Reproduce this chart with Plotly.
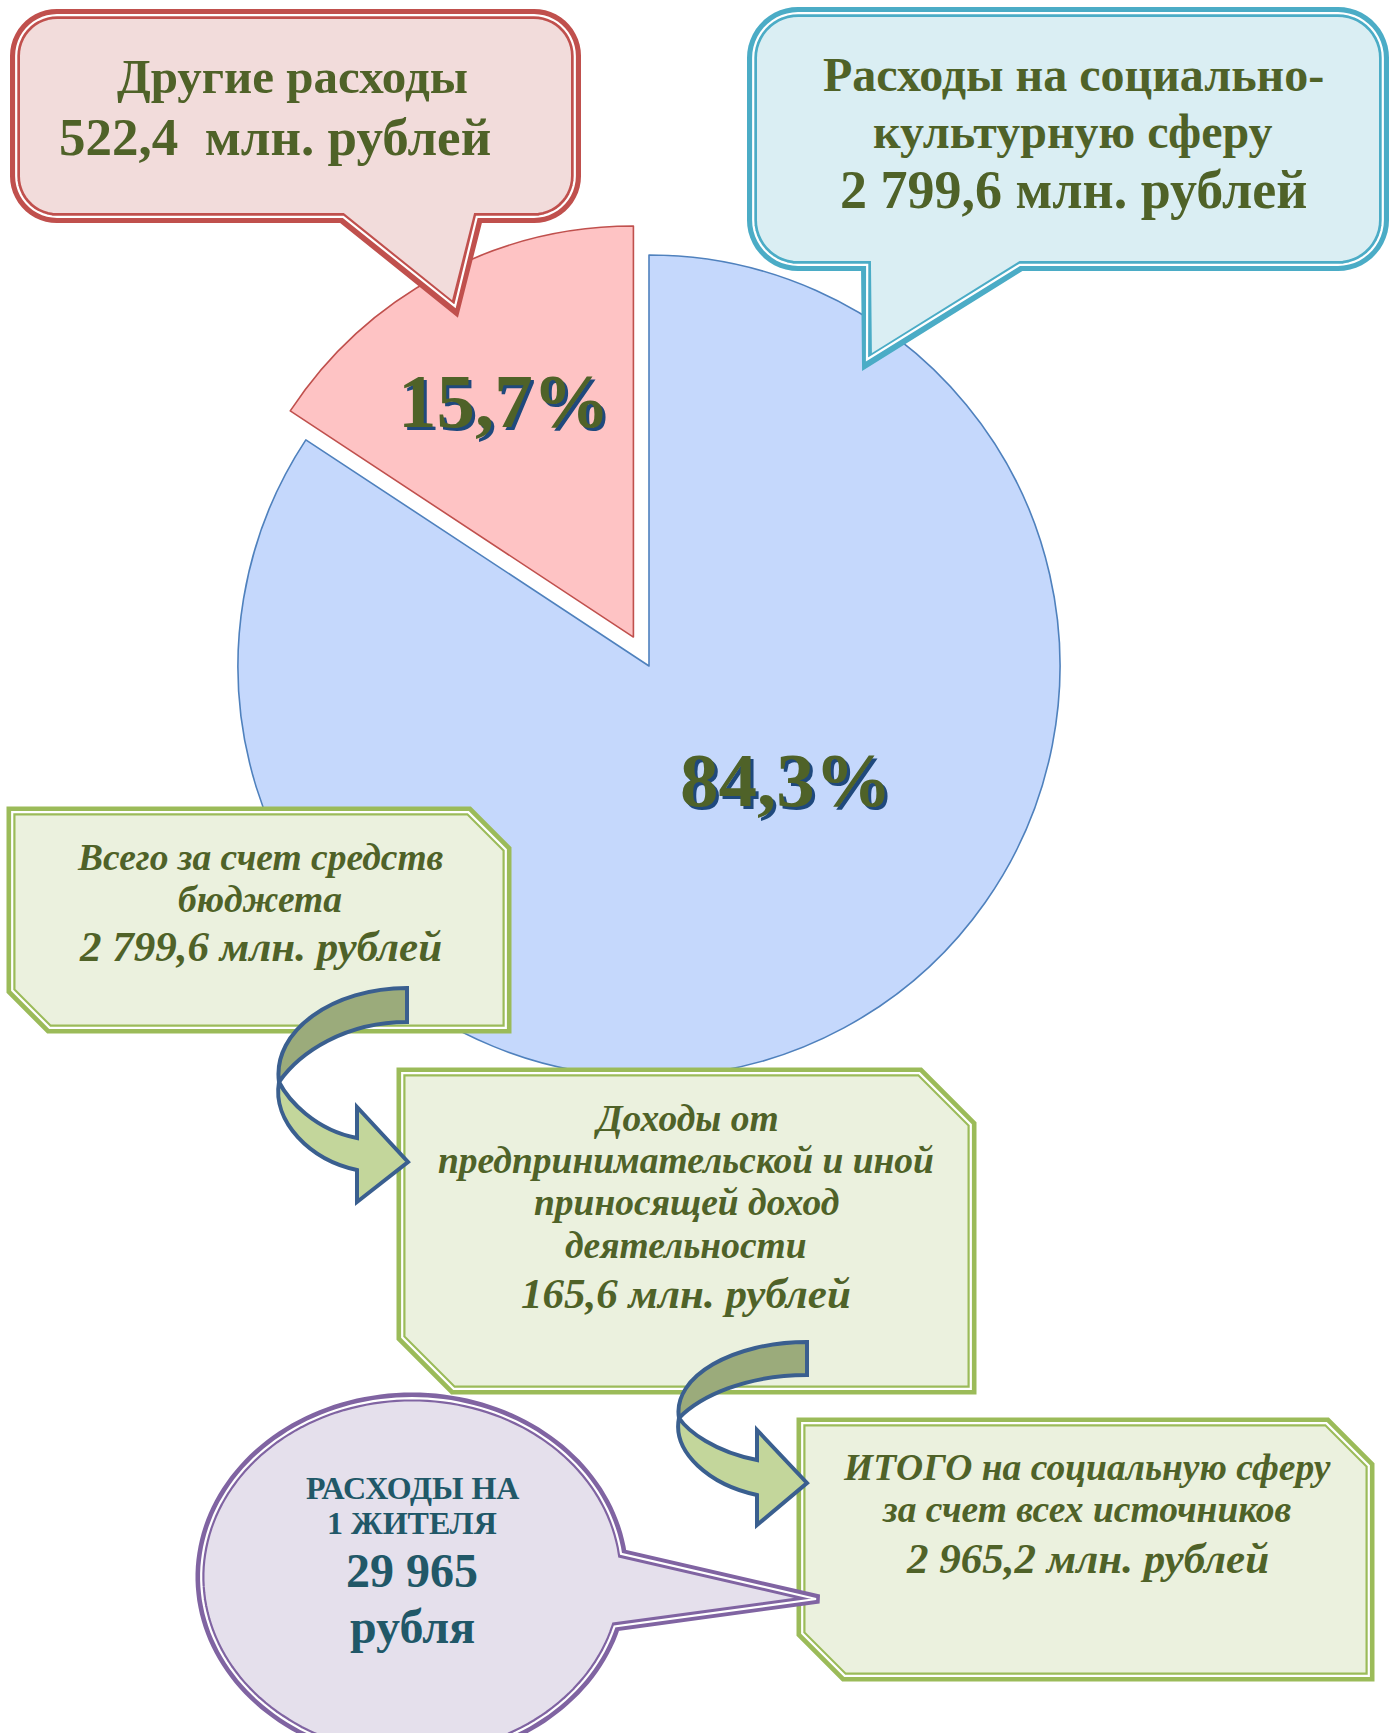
import numpy as np
import plotly.graph_objects as go

W, H = 1389, 1733

# ---------------- data ----------------
categories = ["Расходы на социально-культурную сферу", "Другие расходы"]
values = [2799.6, 522.4]            # млн. рублей
budget_total = 2799.6              # всего за счет средств бюджета
business_income = 165.6            # доходы от предпринимательской деятельности
per_resident = 29965               # расходы на 1 жителя, рублей
slice_colors = ["#c5d8fc", "#fec3c4"]
slice_lines = ["#4f81bd", "#c0504d"]
pull = [0.0, 0.08]

grand_total = budget_total + business_income


def fmt_ru(x, dec=1):
    return f"{x:,.{dec}f}".replace(",", " ").replace(".", ",")


percents = [100 * v / sum(values) for v in values]
pct_labels = [fmt_ru(p) + "%" for p in percents]

OLIVE = "#4f6228"
TEAL = "#215868"
FONT = "Liberation Serif"

fig = go.Figure()

# ---------------- pie ----------------
r_px = 411
cx, cy = 649, 666
half = r_px * (1 + max(pull))
fig.add_trace(go.Pie(
    labels=categories, values=values, sort=False, direction="clockwise",
    rotation=0, pull=pull, textinfo="none", hoverinfo="skip", showlegend=False,
    marker=dict(colors=slice_colors, line=dict(color=slice_lines, width=1.6)),
    domain=dict(x=[(cx - half) / W, (cx + half) / W],
                y=[1 - (cy + half) / H, 1 - (cy - half) / H]),
))

shapes = []


def pstr(pts, close=True):
    s = "M " + " L ".join(f"{x:.1f},{y:.1f}" for x, y in pts)
    return s + (" Z" if close else "")


def add_path(path, fill=None, line=None, width=0):
    shapes.append(dict(type="path", path=path, xref="x", yref="y", layer="above",
                       fillcolor=fill if fill else "rgba(0,0,0,0)",
                       line=dict(color=line if line else "rgba(0,0,0,0)", width=width)))


def round_callout(x0, y0, x1, y1, r, ta, tb, tip, d=0):
    x0 += d; y0 += d; x1 -= d; y1 -= d; r = max(r - d, 1)
    ta += d; tb -= d
    tip = (tip[0], tip[1] - 2.2 * d)
    pts = []

    def arc(ax, ay, a0, a1, n=14):
        for t in np.linspace(a0, a1, n):
            pts.append((ax + r * np.cos(t), ay + r * np.sin(t)))
    arc(x0 + r, y0 + r, np.pi, 1.5 * np.pi)
    arc(x1 - r, y0 + r, 1.5 * np.pi, 2 * np.pi)
    arc(x1 - r, y1 - r, 0, 0.5 * np.pi)
    pts += [(tb, y1), tip, (ta, y1)]
    arc(x0 + r, y1 - r, 0.5 * np.pi, np.pi)
    return pstr(pts)


def cut_box(x0, y0, x1, y1, c, d=0):
    x0 += d; y0 += d; x1 -= d; y1 -= d; c = c - 0.41 * d
    return pstr([(x0, y0), (x1 - c, y0), (x1, y0 + c), (x1, y1), (x0 + c, y1), (x0, y1 - c)])


def ellipse_callout(ex, ey, rx, ry, t1, t2, tip, d=0):
    rx -= d; ry -= d
    tip = (tip[0] - 2.5 * d, tip[1])
    ts = np.linspace(t2, t1 + 2 * np.pi, 160)
    pts = [(ex + rx * np.cos(t), ey + ry * np.sin(t)) for t in ts]
    pts.append(tip)
    return pstr(pts)


def framed(fn, args, fill, color, w=9):
    add_path(fn(*args, d=0), fill=fill, line=color, width=w)
    add_path(fn(*args, d=1.2), line="white", width=2.2)


# red callout
framed(round_callout, (15, 14, 576, 218, 42, 342, 478, (455, 309)), "#f2dcdb", "#c0504d", 10)
# blue callout
framed(round_callout, (752, 12, 1384, 266, 46, 866, 1021, (867, 362)), "#daeef3", "#4bacc6", 10)
# green boxes
framed(cut_box, (11, 811, 507, 1029, 38), "#ebf1de", "#9bbb59")
framed(cut_box, (401, 1072, 972, 1390, 52), "#ebf1de", "#9bbb59")
framed(cut_box, (801, 1422, 1370, 1677, 43), "#ebf1de", "#9bbb59")
# purple speech ellipse
framed(ellipse_callout, (412, 1577, 212, 180, -0.13, 0.28, (819, 1599)), "#e5e0ec", "#8064a2")


def curved_arrow(tx, ty1, ty2, wx, wy, hx, b1, b2, ht, hb, tipx, tipy):
    up = (f"M {tx},{ty1} C {tx-0.57*(tx-wx):.1f},{ty1} {wx-7},{ty1+0.45*(wy-ty1):.1f} {wx},{wy} "
          f"C {wx+21},{wy-0.5*(wy-ty2):.1f} {wx+0.52*(tx-wx):.1f},{ty2} {tx},{ty2} Z")
    low = (f"M {wx},{wy} C {wx-7},{wy+0.45*(b2-wy):.1f} {wx+0.4*(hx-wx):.1f},{b2-10} {hx},{b2} "
           f"L {hx},{hb} L {tipx},{tipy} L {hx},{ht} L {hx},{b1} "
           f"C {hx-0.54*(hx-wx):.1f},{b1-8} {wx+9},{wy+0.32*(b1-wy):.1f} {wx},{wy} Z")
    add_path(up, fill="#9bab7b", line="#3a5f8f", width=4)
    add_path(low, fill="#c3d69b", line="#3a5f8f", width=4)


curved_arrow(407, 988, 1022, 279, 1082, 357, 1138, 1170, 1107, 1202, 408, 1162)
curved_arrow(807, 1342, 1375, 679, 1418, 757, 1460, 1495, 1430, 1525, 807, 1483)

# ---------------- text ----------------
ann = []


def txt(x, y, s, size, color=OLIVE, bold=True, italic=False, shadow=None):
    t = s
    if italic:
        t = f"<i>{t}</i>"
    if bold:
        t = f"<b>{t}</b>"
    if shadow:
        ann.append(dict(x=x + 2.5, y=y + 2.5, xref="x", yref="y", text=t, showarrow=False,
                        xanchor="center", yanchor="middle",
                        font=dict(family=FONT, size=size, color=shadow)))
    ann.append(dict(x=x, y=y, xref="x", yref="y", text=t, showarrow=False,
                    xanchor="center", yanchor="middle",
                    font=dict(family=FONT, size=size, color=color)))


txt(292, 76, categories[1], 49)
txt(275, 137, f"{fmt_ru(values[1])}  млн. рублей", 53)

txt(1073, 74, "Расходы на социально-", 48)
txt(1073, 131, "культурную сферу", 48)
txt(1073, 190, f"{fmt_ru(values[0])} млн. рублей", 54)

txt(504, 401, pct_labels[1], 77, shadow="#1f497d")
txt(786, 780, pct_labels[0], 77, shadow="#1f497d")

txt(260, 857, "Всего за счет средств", 37.5, italic=True)
txt(260, 899, "бюджета", 37.5, italic=True)
txt(260, 946, f"{fmt_ru(budget_total)} млн. рублей", 43, italic=True)

txt(686, 1118, "Доходы от", 37.5, italic=True)
txt(686, 1160, "предпринимательской и иной", 37.5, italic=True)
txt(686, 1202, "приносящей доход", 37.5, italic=True)
txt(686, 1245, "деятельности", 37.5, italic=True)
txt(686, 1293, f"{fmt_ru(business_income)} млн. рублей", 43, italic=True)

txt(1087, 1467, "ИТОГО на социальную сферу", 37.5, italic=True)
txt(1087, 1509, "за счет всех источников", 37.5, italic=True)
txt(1087, 1558, f"{fmt_ru(grand_total)} млн. рублей", 43, italic=True)

txt(412, 1488, "РАСХОДЫ НА", 32, color=TEAL)
txt(412, 1523, "1 ЖИТЕЛЯ", 32, color=TEAL)
txt(412, 1570, fmt_ru(per_resident, 0), 48, color=TEAL)
txt(412, 1626, "рубля", 48, color=TEAL)

fig.update_layout(
    width=W, height=H, margin=dict(l=0, r=0, t=0, b=0),
    paper_bgcolor="white", plot_bgcolor="white",
    xaxis=dict(range=[0, W], visible=False, domain=[0, 1], fixedrange=True),
    yaxis=dict(range=[H, 0], visible=False, domain=[0, 1], fixedrange=True),
    shapes=shapes, annotations=ann, showlegend=False,
)

fig.write_html("out.html", config={"displayModeBar": False},
               post_script="document.body.style.margin='0';")
